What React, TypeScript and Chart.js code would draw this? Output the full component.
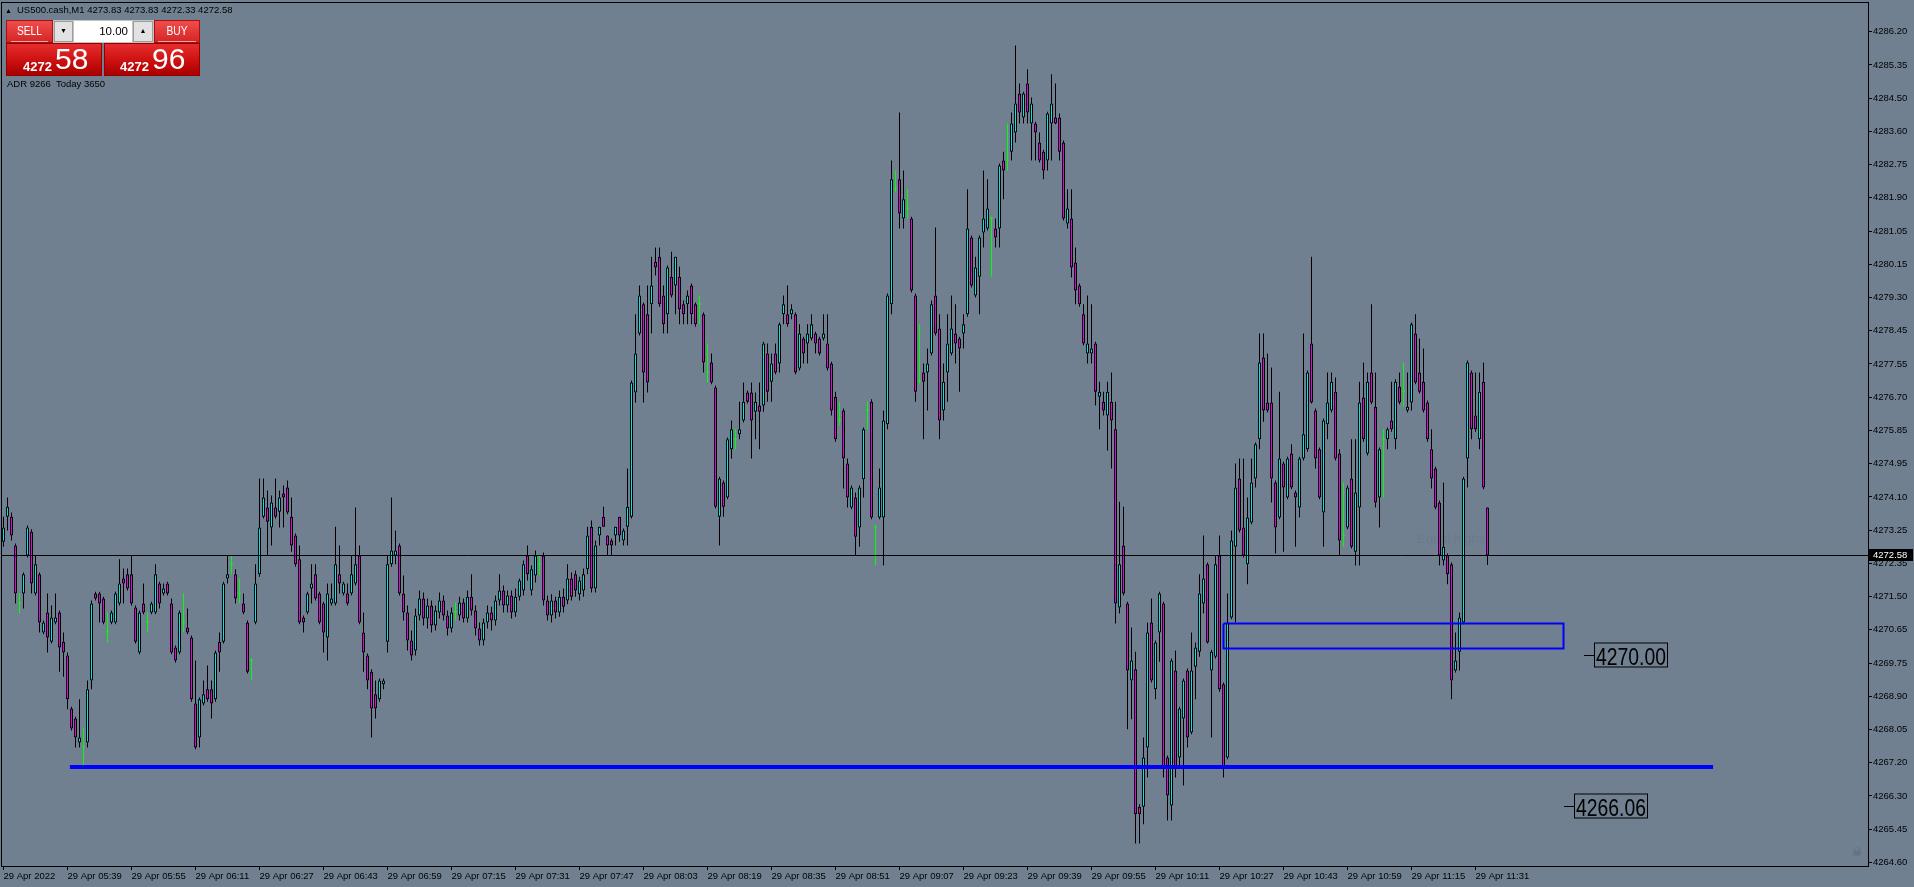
import React, { useEffect, useRef } from 'react';
import { Chart, registerables } from 'chart.js';

Chart.register(...registerables);

// ---------------- data ----------------
const symbolTitle = 'US500.cash,M1';
const lastBarOHLC = ['4273.83', '4273.83', '4272.33', '4272.58'];
const bidPrice = 4272.58;
const sellQuote = ['4272', '58'];
const buyQuote = ['4272', '96'];
const lotSize = '10.00';
const adrLine = 'ADR 9266  Today 3650';

const xTickLabels = [
  '29 Apr 2022', '29 Apr 05:39', '29 Apr 05:55', '29 Apr 06:11', '29 Apr 06:27', '29 Apr 06:43',
  '29 Apr 06:59', '29 Apr 07:15', '29 Apr 07:31', '29 Apr 07:47', '29 Apr 08:03', '29 Apr 08:19',
  '29 Apr 08:35', '29 Apr 08:51', '29 Apr 09:07', '29 Apr 09:23', '29 Apr 09:39', '29 Apr 09:55',
  '29 Apr 10:11', '29 Apr 10:27', '29 Apr 10:43', '29 Apr 10:59', '29 Apr 11:15', '29 Apr 11:31',
];
const barsPerTimeLabel = 16;

const yTickLabels = [
  '4286.20', '4285.35', '4284.50', '4283.60', '4282.75', '4281.90', '4281.05', '4280.15', '4279.30',
  '4278.45', '4277.55', '4276.70', '4275.85', '4274.95', '4274.10', '4273.25', '4272.35', '4271.50',
  '4270.65', '4269.75', '4268.90', '4268.05', '4267.20', '4266.30', '4265.45', '4264.60',
];

const opens = [
  4272.94,4273.59,4273.59,4272.84,4271.33,4271.59,4272.58,4273.20,4271.59,4272.09,
  4270.58,4271.10,4270.34,4270.84,4271.10,4270.34,4269.98,4268.60,4268.34,4267.72,
  4267.59,4267.72,4269.33,4271.59,4271.59,4271.46,4270.58,4270.84,4270.84,4271.33,
  4271.98,4272.09,4272.09,4271.23,4270.06,4271.33,4270.84,4271.10,4271.10,4271.85,
  4271.59,4271.85,4271.33,4270.19,4270.06,4270.84,4270.71,4270.45,4268.73,4267.85,
  4268.73,4269.10,4269.10,4268.84,4270.34,4270.34,4271.98,4272.35,4272.09,4271.59,
  4271.33,4270.84,4269.85,4270.84,4272.09,4273.59,4273.83,4273.31,4273.83,4273.72,
  4274.19,4274.35,4273.59,4273.10,4272.48,4270.97,4271.10,4271.72,4272.09,4271.59,
  4271.33,4270.45,4271.33,4271.33,4272.09,4271.59,4271.59,4271.59,4271.85,4272.58,
  4270.58,4269.98,4269.56,4268.97,4268.84,4269.23,4270.34,4272.35,4272.58,4272.84,
  4271.59,4271.10,4270.37,4270.11,4271.02,4271.46,4270.94,4271.28,4270.76,4271.10,
  4271.41,4271.02,4270.68,4271.10,4271.02,4271.36,4270.94,4271.51,4271.15,4270.68,
  4270.37,4270.84,4271.10,4270.89,4271.41,4271.67,4271.28,4271.54,4271.10,4271.51,
  4271.67,4272.58,4271.67,4272.06,4272.35,4272.58,4271.41,4271.02,4271.41,4271.10,
  4271.51,4271.41,4271.98,4272.09,4271.57,4271.67,4272.22,4273.33,4271.72,4273.10,
  4273.59,4273.10,4272.97,4273.10,4273.59,4272.97,4273.33,4273.59,4276.82,4278.35,
  4279.11,4278.85,4279.11,4280.22,4280.35,4279.34,4278.85,4279.83,4279.60,4279.83,
  4279.11,4279.11,4279.60,4279.11,4279.11,4278.85,4277.34,4277.60,4276.95,4273.59,
  4274.48,4274.09,4275.34,4275.60,4275.73,4276.09,4276.82,4276.82,4276.32,4276.48,
  4276.48,4277.83,4277.10,4277.83,4277.57,4278.85,4278.85,4278.85,4278.85,4277.44,
  4278.22,4278.09,4278.22,4278.35,4278.22,4278.22,4278.09,4277.57,4276.71,4276.09,
  4276.35,4274.97,4273.83,4274.09,4273.31,4274.56,4276.35,4276.58,4273.31,4273.57,
  4273.57,4275.99,4279.11,4282.10,4282.36,4281.34,4281.60,4281.34,4279.34,4277.10,
  4277.34,4277.34,4277.83,4279.34,4278.48,4276.35,4277.34,4277.83,4278.35,4278.22,
  4278.35,4278.85,4280.85,4279.34,4279.83,4280.98,4281.08,4281.34,4281.08,4281.08,
  4282.85,4282.85,4283.08,4283.58,4284.59,4283.97,4284.85,4283.81,4283.81,4283.32,
  4283.08,4282.85,4283.81,4283.97,4283.97,4283.32,4281.21,4281.34,4280.20,4279.60,
  4278.85,4277.83,4277.83,4278.09,4276.71,4276.58,4276.22,4276.58,4275.86,4271.23,
  4272.84,4271.33,4269.33,4269.62,4266.05,4266.05,4267.59,4270.84,4269.10,4270.58,
  4271.33,4267.33,4266.08,4269.59,4267.33,4268.34,4269.59,4267.98,4269.69,4270.08,
  4271.33,4272.35,4269.59,4269.95,4272.58,4269.23,4267.33,4270.97,4272.81,4274.58,
  4273.31,4272.35,4273.44,4274.58,4275.60,4277.73,4276.56,4276.56,4274.48,4273.57,
  4274.97,4274.09,4275.23,4274.22,4273.83,4275.10,4275.34,4278.09,4276.35,4275.34,
  4273.70,4275.99,4276.35,4276.84,4275.23,4273.10,4273.31,4274.58,4272.68,4273.83,
  4276.69,4275.23,4277.34,4276.45,4274.09,4275.60,4275.60,4276.09,4275.60,4276.97,
  4276.84,4276.35,4276.56,4278.35,4277.34,4277.10,4276.56,4275.34,4274.84,4273.96,
  4272.45,4272.58,4272.35,4269.59,4270.08,4270.84,4275.10,4277.34,4276.22,4275.60,
  4277.10,4273.83,
];

const highs = [
  4273.59,4274.09,4273.70,4272.89,4271.59,4272.14,4273.36,4273.26,4272.58,4272.14,
  4270.89,4271.59,4271.28,4271.59,4271.15,4270.58,4270.06,4268.65,4268.39,4268.84,
  4268.08,4269.33,4271.41,4271.64,4271.64,4271.51,4271.10,4271.15,4271.64,4272.48,
  4272.24,4272.24,4272.58,4271.28,4271.15,4271.85,4271.10,4271.38,4272.35,4271.90,
  4271.85,4271.90,4271.46,4270.24,4271.15,4271.59,4271.20,4270.50,4269.85,4268.89,
  4269.33,4269.72,4269.33,4270.11,4270.58,4271.90,4272.58,4272.58,4272.22,4271.98,
  4271.59,4270.89,4269.90,4272.35,4274.58,4274.58,4274.27,4274.14,4274.58,4274.27,
  4274.40,4274.53,4274.09,4273.15,4272.84,4271.02,4271.64,4272.35,4272.35,4271.64,
  4271.38,4271.85,4271.85,4273.33,4272.84,4271.90,4271.85,4272.58,4273.83,4272.84,
  4271.10,4270.03,4269.62,4269.33,4269.38,4269.38,4272.58,4274.09,4273.23,4272.89,
  4272.06,4271.28,4270.63,4271.20,4271.67,4271.62,4271.46,4271.41,4271.28,4271.62,
  4271.54,4271.15,4271.23,4271.36,4271.51,4271.46,4271.67,4272.09,4271.28,4270.84,
  4270.94,4271.28,4271.25,4271.54,4272.09,4271.80,4271.67,4271.67,4271.72,4271.98,
  4272.45,4272.84,4272.32,4272.71,4272.58,4272.66,4271.54,4271.57,4271.51,4271.67,
  4271.72,4272.35,4272.14,4272.19,4272.03,4272.24,4273.33,4273.49,4272.97,4273.33,
  4273.85,4273.10,4273.02,4273.33,4273.59,4273.28,4274.84,4277.13,4278.85,4279.60,
  4279.16,4279.60,4280.35,4280.59,4280.59,4279.60,4280.12,4280.48,4280.35,4280.09,
  4279.21,4279.47,4279.65,4279.16,4279.34,4278.90,4278.09,4277.83,4277.00,4274.63,
  4274.53,4275.65,4276.09,4275.86,4276.58,4277.08,4276.87,4277.08,4276.82,4277.08,
  4278.14,4278.09,4277.83,4278.09,4278.64,4279.34,4279.60,4279.11,4278.90,4278.59,
  4278.27,4278.59,4278.85,4278.40,4278.27,4278.85,4278.85,4277.62,4276.84,4276.58,
  4276.40,4275.10,4274.40,4274.22,4274.40,4275.91,4276.58,4276.64,4273.36,4274.84,
  4276.35,4279.39,4282.85,4282.59,4284.10,4282.59,4282.10,4281.39,4279.39,4278.59,
  4277.57,4277.96,4279.21,4281.11,4278.85,4277.57,4278.85,4279.34,4279.11,4278.27,
  4278.85,4282.10,4280.90,4280.35,4280.90,4282.59,4282.36,4281.39,4281.34,4282.77,
  4283.08,4283.81,4284.10,4285.84,4284.85,4284.64,4285.22,4284.49,4283.86,4283.58,
  4283.13,4284.12,4285.09,4284.85,4284.07,4283.37,4282.10,4282.10,4280.59,4279.65,
  4279.11,4279.34,4279.11,4278.14,4277.10,4276.84,4277.10,4277.34,4276.58,4273.98,
  4273.85,4271.38,4270.71,4270.08,4266.11,4267.85,4270.84,4271.46,4270.37,4271.64,
  4271.38,4267.38,4269.90,4270.11,4268.65,4269.38,4269.64,4270.58,4270.32,4272.09,
  4273.10,4272.40,4270.13,4272.58,4273.10,4269.28,4271.59,4273.23,4274.97,4275.10,
  4275.10,4274.09,4275.10,4275.52,4278.35,4278.35,4277.83,4277.47,4274.53,4276.84,
  4275.02,4275.15,4275.47,4274.27,4275.15,4278.35,4277.39,4280.35,4276.40,4275.39,
  4276.14,4277.34,4277.34,4277.21,4275.34,4274.48,4274.40,4275.60,4275.60,4277.10,
  4277.60,4277.34,4279.11,4277.34,4275.39,4275.86,4275.91,4277.10,4277.16,4277.34,
  4277.60,4277.34,4278.64,4278.85,4278.22,4277.96,4276.61,4275.86,4274.89,4274.01,
  4274.48,4272.63,4272.40,4270.58,4271.10,4274.63,4277.65,4277.39,4277.34,4277.34,
  4277.60,4273.83,
];

const lows = [
  4272.81,4273.23,4272.97,4271.33,4271.07,4271.20,4272.53,4271.59,4271.54,4270.58,
  4270.53,4270.06,4270.29,4270.79,4269.56,4269.43,4268.58,4268.03,4267.59,4267.59,
  4267.09,4267.59,4269.10,4271.41,4270.84,4270.79,4270.32,4270.79,4270.79,4271.28,
  4271.33,4271.67,4271.28,4270.29,4270.01,4271.05,4270.58,4271.05,4271.05,4271.20,
  4271.54,4271.54,4270.01,4269.80,4270.01,4270.58,4270.53,4268.78,4267.54,4267.59,
  4268.68,4268.78,4268.34,4268.78,4269.56,4270.29,4271.85,4272.09,4271.33,4271.33,
  4271.05,4269.51,4269.33,4270.79,4272.03,4273.54,4272.58,4272.84,4273.54,4273.31,
  4273.31,4273.65,4272.68,4272.29,4270.79,4270.58,4271.05,4271.33,4271.41,4270.79,
  4270.06,4269.85,4271.28,4271.28,4271.59,4271.54,4271.28,4271.54,4271.80,4270.79,
  4269.56,4269.10,4267.85,4268.34,4268.78,4269.10,4270.06,4272.29,4272.35,4271.54,
  4270.89,4270.11,4269.85,4269.98,4270.89,4270.76,4270.68,4270.58,4270.63,4270.94,
  4270.89,4270.50,4270.58,4270.89,4270.89,4270.84,4270.84,4271.02,4270.50,4270.24,
  4270.24,4270.68,4270.63,4270.76,4271.28,4271.10,4271.10,4270.94,4270.99,4271.41,
  4271.54,4271.93,4271.54,4271.88,4272.06,4271.28,4270.89,4270.84,4270.94,4270.99,
  4271.10,4271.31,4271.41,4271.51,4271.41,4271.51,4272.09,4271.62,4271.62,4272.84,
  4273.33,4272.58,4272.58,4272.84,4272.94,4272.84,4272.84,4273.54,4276.56,4278.30,
  4276.56,4276.82,4278.35,4279.86,4279.05,4278.35,4278.35,4279.29,4278.85,4278.59,
  4278.59,4278.59,4278.59,4278.53,4278.59,4277.34,4277.08,4277.03,4273.80,4272.84,
  4273.59,4274.04,4275.10,4275.34,4275.60,4276.04,4276.53,4275.10,4275.60,4275.34,
  4276.32,4276.58,4276.58,4277.29,4277.34,4278.59,4278.53,4278.72,4277.29,4277.39,
  4277.57,4277.57,4278.17,4277.83,4277.78,4278.17,4277.39,4276.22,4275.54,4275.96,
  4274.32,4273.83,4273.78,4272.58,4272.81,4274.09,4275.86,4273.52,4272.32,4273.52,
  4272.32,4275.86,4278.85,4282.04,4281.08,4281.08,4281.34,4279.42,4276.58,4277.05,
  4275.60,4276.35,4277.78,4278.30,4275.60,4276.09,4276.58,4277.78,4277.57,4276.84,
  4277.96,4278.79,4279.55,4279.29,4278.85,4280.59,4281.03,4279.83,4280.59,4280.59,
  4281.84,4282.59,4282.85,4283.32,4283.81,4283.81,4283.81,4282.85,4282.85,4282.80,
  4282.36,4282.59,4282.85,4283.79,4282.85,4281.29,4281.08,4279.81,4279.11,4279.05,
  4278.04,4277.57,4277.57,4276.48,4275.86,4276.22,4275.31,4274.84,4270.81,4271.07,
  4271.54,4268.06,4268.32,4265.09,4265.09,4265.59,4266.81,4269.28,4268.84,4269.82,
  4266.81,4265.69,4265.69,4266.81,4267.09,4266.60,4267.59,4267.93,4268.84,4269.95,
  4271.07,4270.29,4267.85,4269.90,4269.04,4266.81,4267.28,4270.92,4270.84,4273.18,
  4272.53,4271.83,4273.39,4274.35,4275.34,4276.06,4276.30,4273.96,4272.63,4273.52,
  4272.68,4274.04,4274.30,4272.81,4273.57,4275.05,4275.28,4276.53,4274.84,4274.04,
  4272.81,4275.60,4276.30,4275.05,4272.58,4272.81,4273.26,4272.76,4272.32,4272.32,
  4275.54,4275.18,4276.51,4273.83,4273.31,4274.09,4275.34,4275.80,4275.34,4276.51,
  4276.45,4276.30,4276.35,4277.03,4276.79,4276.30,4275.54,4274.32,4273.78,4272.32,
  4272.32,4271.83,4268.84,4269.54,4269.59,4270.79,4274.35,4275.60,4275.80,4275.34,
  4274.30,4272.33,
];

const closes = [
  4273.31,4273.85,4273.10,4271.59,4271.33,4272.09,4273.31,4271.85,4272.35,4270.84,
  4270.84,4270.45,4270.97,4270.97,4270.19,4270.06,4268.84,4268.08,4267.85,4267.85,
  4267.59,4269.10,4271.33,4271.46,4271.33,4270.84,4270.58,4271.10,4271.59,4271.85,
  4271.85,4271.72,4271.33,4270.34,4271.10,4271.10,4270.84,4271.33,4272.09,4271.33,
  4271.72,4271.59,4270.06,4269.85,4271.10,4270.84,4270.58,4268.84,4267.59,4268.84,
  4268.97,4268.84,4268.73,4270.06,4270.06,4271.85,4272.09,4272.35,4271.46,4271.59,
  4271.10,4269.56,4269.85,4271.85,4273.31,4274.09,4273.46,4273.96,4273.59,4274.09,
  4274.09,4273.70,4272.84,4272.35,4270.84,4270.84,4271.59,4271.85,4271.46,4270.84,
  4270.58,4271.59,4271.46,4272.35,4271.85,4271.85,4271.33,4272.09,4272.35,4270.84,
  4270.06,4269.33,4268.60,4268.60,4269.33,4269.33,4272.35,4272.71,4272.71,4271.59,
  4271.10,4270.37,4269.98,4271.02,4271.46,4270.94,4271.28,4270.76,4271.15,4271.41,
  4271.02,4270.68,4271.10,4271.10,4271.36,4270.94,4271.51,4271.15,4270.68,4270.37,
  4270.84,4271.10,4270.89,4271.41,4271.67,4271.28,4271.54,4271.10,4271.51,4271.93,
  4272.35,4272.09,4272.22,4272.58,4272.35,4271.41,4271.02,4271.41,4271.10,4271.51,
  4271.25,4271.98,4271.51,4271.67,4271.93,4272.09,4273.10,4271.72,4272.84,4273.33,
  4273.33,4272.84,4272.84,4273.33,4273.10,4273.23,4273.85,4277.08,4277.83,4279.34,
  4277.34,4277.08,4279.60,4280.07,4279.11,4278.59,4280.07,4279.34,4280.35,4278.98,
  4278.85,4279.34,4278.85,4278.59,4279.11,4277.60,4277.34,4277.08,4273.85,4274.58,
  4273.85,4275.60,4275.86,4275.60,4275.86,4276.58,4276.58,4276.09,4276.58,4276.32,
  4278.09,4276.84,4277.57,4277.34,4278.59,4279.11,4278.59,4278.98,4277.34,4278.35,
  4277.83,4278.35,4278.59,4278.09,4277.83,4278.35,4277.44,4276.35,4275.60,4276.09,
  4275.10,4274.09,4274.35,4273.07,4274.35,4275.86,4276.35,4273.57,4273.31,4274.35,
  4276.09,4279.34,4282.36,4282.10,4281.47,4281.84,4281.60,4279.47,4276.84,4277.10,
  4277.10,4277.57,4279.11,4278.35,4276.09,4277.10,4278.09,4278.48,4278.09,4277.96,
  4278.59,4281.08,4279.60,4280.07,4280.85,4281.34,4281.60,4281.34,4280.85,4282.72,
  4282.59,4282.85,4283.81,4284.33,4284.10,4284.59,4284.10,4284.33,4283.58,4282.85,
  4282.59,4284.07,4284.33,4283.81,4283.08,4281.34,4281.60,4280.07,4279.47,4279.11,
  4278.09,4278.09,4277.96,4276.84,4276.84,4276.35,4276.84,4276.09,4271.33,4272.35,
  4271.59,4269.59,4269.85,4265.85,4265.85,4267.33,4270.58,4269.33,4270.32,4271.59,
  4267.09,4266.34,4269.85,4267.09,4268.60,4269.33,4267.85,4269.59,4270.19,4271.59,
  4271.98,4270.32,4270.08,4272.35,4269.10,4267.09,4270.84,4272.97,4274.35,4273.23,
  4272.58,4273.57,4274.48,4275.47,4277.60,4276.35,4276.35,4274.58,4273.31,4275.10,
  4274.35,4275.10,4274.35,4274.09,4275.10,4275.73,4277.34,4276.56,4275.10,4274.09,
  4276.09,4276.56,4277.10,4275.10,4272.97,4273.10,4274.35,4272.81,4274.22,4276.56,
  4275.60,4277.10,4276.56,4273.96,4275.34,4275.60,4275.86,4275.86,4277.10,4276.56,
  4276.84,4276.45,4278.59,4277.08,4276.84,4276.35,4275.60,4274.58,4273.83,4272.58,
  4272.81,4272.09,4269.33,4269.85,4270.97,4274.58,4277.60,4275.86,4275.86,4276.84,
  4274.35,4272.58,
];

// drawn objects (prices, and bar positions on the time axis)
const supportLevel = 4267.08;
const supportFromBar = 16.6;
const supportToBar = 427.4;
const zoneTop = 4270.81;
const zoneBottom = 4270.16;
const zoneFromBar = 305;
const zoneToBar = 390;
const priceTags = [
  { price: 4270.0, text: '4270.00', atBar: 395.2 },
  { price: 4266.06, text: '4266.06', atBar: 390.2 },
];
const noteText = 'Equal highs';
const noteAtBar = 353.4;
const notePrice = 4273.0;

// ---------------- styling / layout ----------------
const BG = '#708090';
const BULL = '#00e6e6';
const BEAR = '#e600e6';
const DOJI = '#00ff00';
const FONT = "'Liberation Sans', Arial, sans-serif";
const X_MIN = -0.375;
const X_MAX = 466.125;
const Y_MIN = 4264.507;
const Y_MAX = 4286.945;

const yTop = parseFloat(yTickLabels[0]);
const yBottom = parseFloat(yTickLabels[yTickLabels.length - 1]);
const yStep = (yTop - yBottom) / (yTickLabels.length - 1);
const yTickValues = yTickLabels.map((_, k) => yBottom + k * yStep);

const overlayPlugin = {
  id: 'mtOverlay',
  beforeDatasetsDraw(chart: any) {
    const { ctx, scales } = chart;
    const x = scales.x;
    const y = scales.y;
    ctx.save();
    ctx.fillStyle = '#65748480';
    ctx.font = `13px ${FONT}`;
    ctx.textBaseline = 'middle';
    ctx.textAlign = 'left';
    ctx.fillText(noteText, x.getPixelForValue(noteAtBar), y.getPixelForValue(notePrice));
    ctx.restore();
  },
  afterDraw(chart: any) {
    const { ctx, chartArea: a, scales } = chart;
    const x = scales.x;
    const y = scales.y;
    ctx.save();
    // frame
    ctx.strokeStyle = '#000';
    ctx.lineWidth = 1;
    ctx.strokeRect(Math.round(a.left) - 0.5, Math.round(a.top) - 0.5,
      Math.round(a.right - a.left) + 1, Math.round(a.bottom - a.top) + 1);

    // price tags with leader line
    for (const t of priceTags) {
      const px = Math.round(x.getPixelForValue(t.atBar));
      const py = Math.round(y.getPixelForValue(t.price)) + 0.5;
      ctx.strokeStyle = '#000';
      ctx.lineWidth = 1;
      ctx.beginPath();
      ctx.moveTo(px, py);
      ctx.lineTo(px + 10, py);
      ctx.stroke();
      ctx.strokeRect(px + 10.5, py - 12.5, 73, 24);
      ctx.font = `24px 'Liberation Sans Narrow', ${FONT}`;
      const w = ctx.measureText(t.text).width;
      const sx = Math.min(1, 70 / w);
      ctx.fillStyle = '#000';
      ctx.textBaseline = 'alphabetic';
      ctx.textAlign = 'left';
      ctx.save();
      ctx.translate(px + 12, py + 9);
      ctx.scale(sx, 1);
      ctx.fillText(t.text, 0, 0);
      ctx.restore();
    }

    // current bid price box on the axis
    const by = Math.round(y.getPixelForValue(bidPrice));
    ctx.fillStyle = '#000';
    ctx.fillRect(Math.round(a.right) + 1, by - 6, 44, 12);
    ctx.fillStyle = '#fff';
    ctx.font = `9.5px ${FONT}`;
    ctx.textBaseline = 'middle';
    ctx.textAlign = 'left';
    ctx.fillText(bidPrice.toFixed(2), Math.round(a.right) + 5, by + 0.5);

    // skull marker
    ctx.fillStyle = 'rgba(50,55,60,0.35)';
    ctx.font = `12px 'DejaVu Sans', sans-serif`;
    ctx.textAlign = 'center';
    ctx.fillText('\u2620', a.right - 11, a.bottom - 13);
    ctx.restore();
  },
};

function CandleChart() {
  const ref = useRef<HTMLCanvasElement>(null);
  useEffect(() => {
    if (!ref.current) return;
    const idx = opens.map((_, i) => i);
    const isDoji = (i: number) => opens[i] === closes[i];
    const bodyIdx = idx.filter((i) => !isDoji(i));
    const dojiIdx = idx.filter(isDoji);

    const zoneRect = [
      { x: zoneFromBar, y: zoneTop }, { x: zoneToBar, y: zoneTop }, { x: zoneToBar, y: zoneBottom },
      { x: zoneFromBar, y: zoneBottom }, { x: zoneFromBar, y: zoneTop },
    ];

    const chart = new Chart(ref.current, {
      type: 'bar',
      data: {
        datasets: [
          {
            type: 'line', data: zoneRect, borderColor: '#0000ff', borderWidth: 2, pointRadius: 0,
            fill: false, tension: 0, borderJoinStyle: 'miter',
          } as any,
          {
            type: 'line',
            data: [{ x: supportFromBar, y: supportLevel }, { x: supportToBar, y: supportLevel }],
            borderColor: '#0000ff', borderWidth: 4, pointRadius: 0, fill: false,
          } as any,
          {
            type: 'line',
            data: [{ x: X_MIN, y: bidPrice }, { x: X_MAX, y: bidPrice }],
            borderColor: '#000', borderWidth: 1, pointRadius: 0, fill: false,
          } as any,
          {
            type: 'bar',
            data: bodyIdx.map((i) => ({ x: i, y: [opens[i], closes[i]] })),
            backgroundColor: bodyIdx.map((i) => (closes[i] > opens[i] ? BULL : BEAR)),
            borderColor: '#000', borderWidth: 1, borderSkipped: false, barThickness: 3,
            minBarLength: 3, grouped: false, inflateAmount: 0,
          } as any,
          {
            type: 'bar',
            data: dojiIdx.map((i) => ({ x: i, y: [opens[i], closes[i]] })),
            backgroundColor: DOJI, borderWidth: 0, barThickness: 3, minBarLength: 1,
            grouped: false, inflateAmount: 0,
          } as any,
          {
            type: 'bar',
            data: idx.map((i) => ({
              x: i,
              y: [Math.min(lows[i], opens[i], closes[i]), Math.max(highs[i], opens[i], closes[i])],
            })),
            backgroundColor: idx.map((i) => (isDoji(i) ? DOJI : '#000')),
            borderWidth: 0, barThickness: 1, minBarLength: 1, grouped: false, inflateAmount: 0,
          } as any,
        ],
      },
      options: {
        animation: false,
        responsive: false,
        maintainAspectRatio: false,
        events: [],
        layout: { padding: { left: 2, top: 3, right: 0, bottom: 0 } },
        plugins: { legend: { display: false }, tooltip: { enabled: false } },
        scales: {
          x: {
            type: 'linear', min: X_MIN, max: X_MAX, offset: false, position: 'bottom',
            grid: { display: true, offset: false, drawOnChartArea: false, drawTicks: true, tickLength: 4, color: '#000', lineWidth: 1 },
            border: { display: false },
            ticks: {
              autoSkip: false, maxRotation: 0, minRotation: 0, align: 'start', padding: 1, color: '#000',
              font: { family: FONT, size: 9.5 },
              callback: (v: any) => xTickLabels[Math.round(Number(v) / barsPerTimeLabel)] ?? '',
            },
            afterBuildTicks: (s: any) => {
              s.ticks = xTickLabels.map((_, k) => ({ value: k * barsPerTimeLabel }));
            },
            afterFit: (s: any) => { s.height = 21; s.paddingLeft = 0; s.paddingRight = 0; },
          },
          y: {
            type: 'linear', position: 'right', min: Y_MIN, max: Y_MAX,
            grid: { display: true, drawOnChartArea: false, drawTicks: true, tickLength: 4, color: '#000', lineWidth: 1 },
            border: { display: false },
            ticks: {
              autoSkip: false, padding: 1, color: '#000', font: { family: FONT, size: 9.5 },
              callback: (v: any) => yTickLabels[Math.round((yTop - Number(v)) / yStep)] ?? '',
            },
            afterBuildTicks: (s: any) => { s.ticks = yTickValues.map((v) => ({ value: v })); },
            afterFit: (s: any) => { s.width = 46; s.paddingTop = 0; s.paddingBottom = 0; },
          },
        },
      } as any,
      plugins: [overlayPlugin],
    });
    return () => chart.destroy();
  }, []);
  return <canvas ref={ref} width={1914} height={887} style={{ position: 'absolute', left: 0, top: 0 }} />;
}

const abs = (left: number, top: number, width: number, height: number, extra: any = {}) => ({
  position: 'absolute' as const, left, top, width, height, boxSizing: 'border-box' as const, ...extra,
});

function TradePanel() {
  const headRed = 'linear-gradient(#ef4d4d, #d62424)';
  const bigRed = 'linear-gradient(#e62d2d 0%, #cc1010 55%, #a80000 100%)';
  const txt = { fontFamily: FONT, color: '#fff', position: 'absolute' as const, whiteSpace: 'pre' as const, lineHeight: 1 };
  return (
    <>
      <div style={{ position: 'absolute', left: 5, top: 5, fontFamily: FONT, fontSize: 9.5, lineHeight: 1, color: '#000', whiteSpace: 'pre' }}>
        <span style={{ fontSize: 7, marginRight: 5 }}>▲</span>
        {symbolTitle} {lastBarOHLC.join(' ')}
      </div>
      {/* SELL */}
      <div style={abs(6, 20, 47, 23, { background: headRed, border: '1px solid #a81010' })}>
        <div style={{ ...txt, left: 0, width: 45, textAlign: 'center', top: 4, fontSize: 12, transform: 'scaleX(0.85)' }}>SELL</div>
        <div style={abs(4, 20, 37, 1, { background: '#f3a3a3' })} />
      </div>
      <div style={abs(6, 43, 96, 33, { background: bigRed, border: '1px solid #960000' })}>
        <div style={{ ...txt, left: 16, top: 16, fontSize: 13, fontWeight: 'bold' }}>{sellQuote[0]}</div>
        <div style={{ ...txt, left: 48, top: 0, fontSize: 30 }}>{sellQuote[1]}</div>
      </div>
      {/* lot spinner */}
      <div style={abs(53, 20, 101, 23, { background: '#c4c4c4' })}>
        <div style={abs(1, 1, 19, 21, { background: '#e2e2e2', border: '1px solid #9c9c9c' })}>
          <div style={{ position: 'absolute', left: 0, width: 17, top: 6, textAlign: 'center', fontSize: 7, lineHeight: 1, color: '#000' }}>▼</div>
        </div>
        <div style={abs(21, 1, 58, 21, { background: '#fff' })}>
          <div style={{ position: 'absolute', right: 4, top: 5, fontFamily: FONT, fontSize: 11.5, lineHeight: 1, color: '#000' }}>{lotSize}</div>
        </div>
        <div style={abs(80, 1, 20, 21, { background: '#e2e2e2', border: '1px solid #9c9c9c' })}>
          <div style={{ position: 'absolute', left: 0, width: 18, top: 6, textAlign: 'center', fontSize: 7, lineHeight: 1, color: '#000' }}>▲</div>
        </div>
      </div>
      {/* BUY */}
      <div style={abs(154, 20, 46, 23, { background: headRed, border: '1px solid #a81010' })}>
        <div style={{ ...txt, left: 0, width: 44, textAlign: 'center', top: 4, fontSize: 12, transform: 'scaleX(0.85)' }}>BUY</div>
        <div style={abs(3, 20, 38, 1, { background: '#f3a3a3' })} />
      </div>
      <div style={abs(104, 43, 96, 33, { background: bigRed, border: '1px solid #960000' })}>
        <div style={{ ...txt, left: 15, top: 16, fontSize: 13, fontWeight: 'bold' }}>{buyQuote[0]}</div>
        <div style={{ ...txt, left: 47, top: 0, fontSize: 30 }}>{buyQuote[1]}</div>
      </div>
      <div style={{ position: 'absolute', left: 7, top: 79, fontFamily: FONT, fontSize: 9.5, lineHeight: 1, color: '#000', whiteSpace: 'pre' }}>
        {adrLine}
      </div>
    </>
  );
}

export default function App() {
  return (
    <div style={{ position: 'fixed', left: 0, top: 0, width: 1914, height: 887, background: BG, overflow: 'hidden' }}>
      <CandleChart />
      <TradePanel />
    </div>
  );
}
